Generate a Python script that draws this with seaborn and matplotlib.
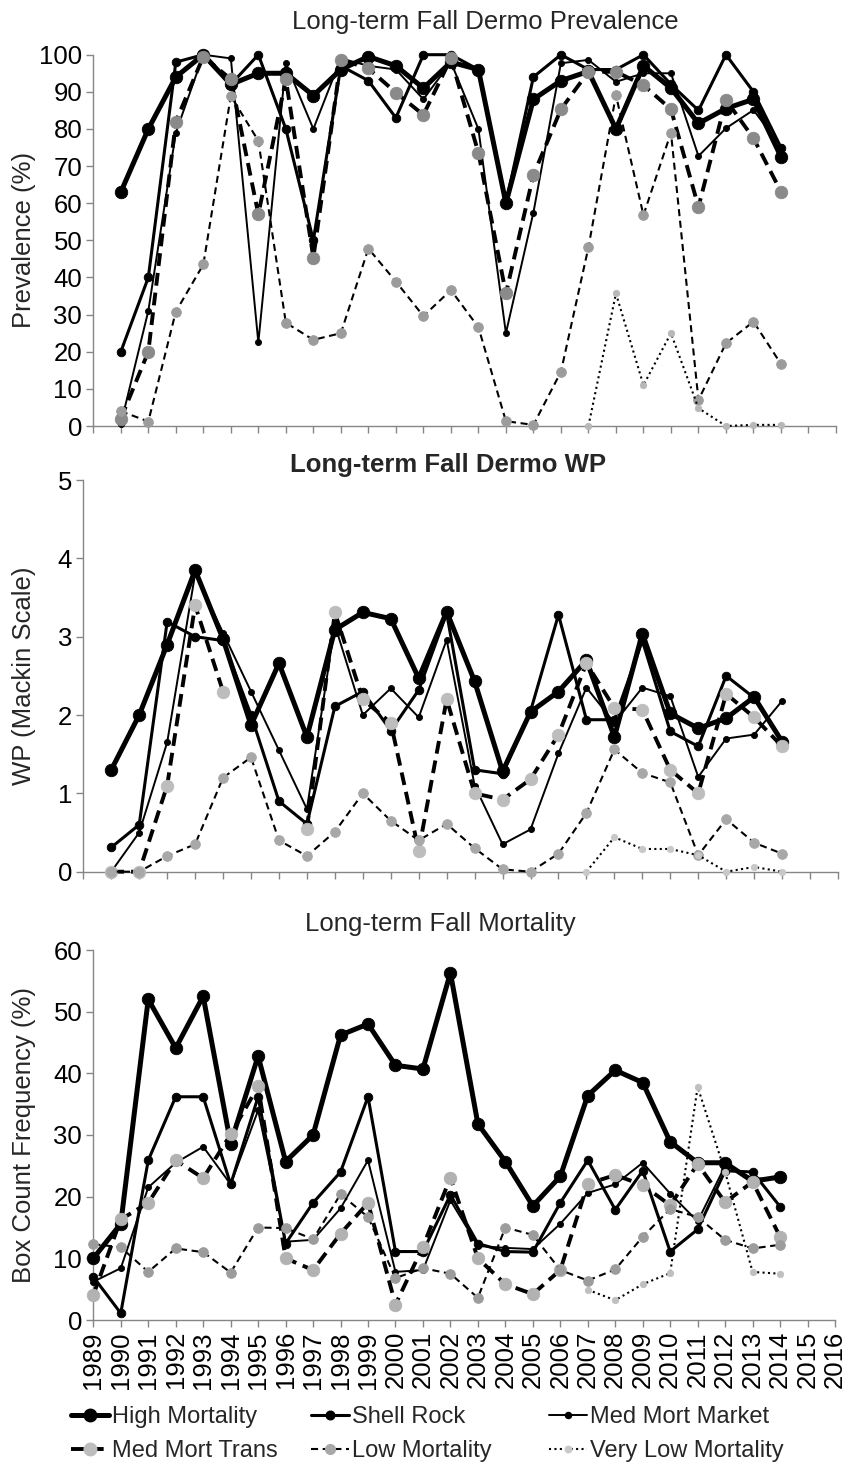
import numpy as np
import pandas as pd
import matplotlib
matplotlib.use("Agg")
import matplotlib.pyplot as plt
import seaborn as sns
from matplotlib.lines import Line2D

NA = np.nan

# ---------------- data ----------------
series_names = ["High Mortality", "Shell Rock", "Med Mort Market",
                "Med Mort Trans", "Low Mortality", "Very Low Mortality"]

years_dermo = list(range(1990, 2015))
years_mort = list(range(1989, 2015))
tick_years = list(range(1989, 2017))

prev_high = [63, 80, 94, 100, 92, 95, 95, 89, 96, 99.5, 97, 91, 98, 96, 60, 88, 93, 95.5, 80, 97, 91, 81.5, 85.5, 88, 72.5]
prev_shell = [20, 40, 98, 100, 92, 100, 80, 50, 97, 93, 83, 100, 100, 96, 60, 94, 100, 96, 96, 100, 92, 85, 100, 90, 75]
prev_mmm = [0.5, 31, 79, 100, 99, 22.5, 97.7, 80, 99, 97, 96, 88, 98, 80, 25, 57.5, 97.7, 98.6, 92.7, 95, 95, 72.7, 80.2, 85.1, 75.2]
prev_mmt = [2, 20, 82, 99.5, 93.4, 57, 93.4, 45.3, 98.7, 96.3, 89.8, 83.8, 99, 73.6, 35.7, 67.6, 85.3, 95.4, 95.4, 91.8, 85.3, 59, 87.8, 77.5, 63.1]
prev_low = [4, 1.2, 30.8, 43.5, 88.9, 76.8, 27.8, 23.2, 25, 47.8, 38.9, 29.6, 36.6, 26.6, 1.3, 0.3, 14.6, 48.1, 89.1, 56.8, 79, 7, 22.3, 28.1, 16.7]
prev_vlow = [NA, NA, NA, NA, NA, NA, NA, NA, NA, NA, NA, NA, NA, NA, NA, NA, NA,
             0, 35.7, 11, 25, 4.8, 0, 0.3, 0.3]

wp_high = [1.3, 2.0, 2.9, 3.85, 2.97, 1.87, 2.66, 1.72, 3.09, 3.31, 3.23, 2.47, 3.32, 2.43, 1.28, 2.04, 2.30, 2.70, 1.72, 3.04, 2.02, 1.83, 1.96, 2.23, 1.66]
wp_shell = [0.31, 0.6, 3.19, 3.0, 2.95, 2.0, 0.9, 0.61, 2.11, 2.3, 1.8, 2.32, 3.3, 1.3, 1.25, 2.05, 3.28, 1.94, 1.94, 2.95, 1.79, 1.6, 2.5, 2.22, 1.66]
wp_mmm = [0.0, 0.5, 1.65, 3.8, 3.05, 2.3, 1.55, 0.8, 3.15, 2.0, 2.34, 1.97, 2.96, 1.1, 0.35, 0.54, 1.51, 2.35, 1.9, 2.35, 2.24, 1.21, 1.7, 1.75, 2.18]
wp_mmt = [0.0, 0.0, 1.1, 3.4, 2.3, NA, NA, 0.55, 3.31, 2.2, 1.9, 0.27, 2.2, 1.0, 0.92, 1.18, 1.75, 2.66, 2.09, 2.07, 1.3, 1.0, 2.27, 1.97, 1.6]
wp_low = [0.0, 0.0, 0.2, 0.35, 1.2, 1.46, 0.4, 0.2, 0.51, 1.0, 0.65, 0.4, 0.61, 0.3, 0.03, 0.0, 0.23, 0.75, 1.56, 1.26, 1.14, 0.21, 0.67, 0.37, 0.23]
wp_vlow = [NA, NA, NA, NA, NA, NA, NA, NA, NA, NA, NA, NA, NA, NA, NA, NA, NA,
           0.0, 0.44, 0.29, 0.29, 0.21, 0.0, 0.06, 0.0]

mort_high = [10.0, 15.6, 52.0, 44.1, 52.5, 28.6, 42.8, 25.7, 30.0, 46.2, 48.0, 41.3, 40.7, 56.3, 31.8, 25.7, 18.5, 23.3, 36.4, 40.5, 38.5, 28.9, 25.5, 25.5, 22.5, 23.2]
mort_shell = [7.0, 1.1, 25.9, 36.2, 36.2, 22.0, 36.2, 12.4, 19.0, 24.0, 36.2, 11.1, 11.1, 20.3, 12.4, 11.1, 11.0, 19.0, 25.9, 17.9, 24.2, 11.1, 14.7, 24.2, 24.0, 18.4]
mort_mmm = [6.2, 8.4, 21.5, 25.5, 28.1, 22.0, 34.0, 12.7, 13.0, 18.1, 25.9, 7.8, 8.1, 19.4, 12.0, 11.7, 11.5, 15.6, 20.6, 22.0, 25.5, 20.5, 16.0, 25.0, 23.0, 22.8]
mort_mmt = [4.05, 16.3, 19.0, 25.9, 23.0, 30.1, 37.9, 10.0, 8.1, 14.0, 19.0, 2.5, 11.9, 23.1, 10.0, 5.8, 4.2, 8.1, 22.1, 23.5, 21.9, 18.6, 25.3, 19.1, 22.4, 13.5]
mort_low = [12.3, 11.8, 7.8, 11.6, 11.0, 7.7, 15.0, 14.9, 13.1, 20.4, 16.7, 6.8, 8.4, 7.5, 3.6, 15.0, 13.8, 8.1, 6.4, 8.2, 13.5, 18.0, 16.7, 13.0, 11.6, 12.2]
mort_vlow = [NA, NA, NA, NA, NA, NA, NA, NA, NA, NA, NA, NA, NA, NA, NA, NA, NA, NA,
             4.9, 3.2, 5.8, 7.6, 37.8, 24.0, 7.8, 7.5]

titles = ["Long-term Fall Dermo Prevalence", "Long-term Fall Dermo WP", "Long-term Fall Mortality"]
ylabels = ["Prevalence (%)", "WP (Mackin Scale)", "Box Count Frequency (%)"]

# ---------------- style ----------------
sns.set_theme(style="white")
plt.rcParams["font.family"] = ["Liberation Sans", "DejaVu Sans"]

W, H = 849, 1469
fig = plt.figure(figsize=(W / 100, H / 100), dpi=100)

styles = {
    "High Mortality": dict(lw=3.6, ls="-", ms=9.0, z=3),
    "Shell Rock": dict(lw=2.2, ls="-", ms=6.2, z=4),
    "Med Mort Market": dict(lw=1.4, ls="-", ms=4.4, z=5),
    "Med Mort Trans": dict(lw=2.8, ls=(0, (3.3, 1.8)), ms=9.0, z=6),
    "Low Mortality": dict(lw=1.5, ls=(0, (3.4, 2.2)), ms=7.0, z=7),
    "Very Low Mortality": dict(lw=1.5, ls=(0, (1.0, 1.6)), ms=4.6, z=8),
}

panel_marker_colors = [
    {"High Mortality": "black", "Shell Rock": "black", "Med Mort Market": "black",
     "Med Mort Trans": "#8a8a8a", "Low Mortality": "#9c9c9c", "Very Low Mortality": "#b8b8b8"},
    {"High Mortality": "black", "Shell Rock": "black", "Med Mort Market": "black",
     "Med Mort Trans": "#bdbdbd", "Low Mortality": "#a8a8a8", "Very Low Mortality": "#c8c8c8"},
    {"High Mortality": "black", "Shell Rock": "black", "Med Mort Market": "black",
     "Med Mort Trans": "#b2b2b2", "Low Mortality": "#9c9c9c", "Very Low Mortality": "#c0c0c0"},
]

panels = [
    dict(years=years_dermo, data=[prev_high, prev_shell, prev_mmm, prev_mmt, prev_low, prev_vlow],
         rect=(93.3, 54.7, 836.0, 426.0), ylim=(0, 100), yticks=list(range(0, 101, 10)),
         title_xy=(485, 29), bold=False),
    dict(years=years_dermo, data=[wp_high, wp_shell, wp_mmm, wp_mmt, wp_low, wp_vlow],
         rect=(83.3, 480.0, 838.0, 871.7), ylim=(0, 5), yticks=list(range(0, 6)),
         title_xy=(448, 472), bold=True),
    dict(years=years_mort, data=[mort_high, mort_shell, mort_mmm, mort_mmt, mort_low, mort_vlow],
         rect=(93.3, 950.0, 835.0, 1320.0), ylim=(0, 60), yticks=list(range(0, 61, 10)),
         title_xy=(440, 931), bold=False),
]


def contiguous_runs(years, vals):
    """Split a series at missing values so gaps stay open."""
    runs, cur = [], []
    for yr, v in zip(years, vals):
        if v is None or (isinstance(v, float) and np.isnan(v)):
            if cur:
                runs.append(cur)
                cur = []
        else:
            cur.append((yr, v))
    if cur:
        runs.append(cur)
    return runs


spine_color = "#868686"
FS = 18.5

for i, p in enumerate(panels):
    x0, y0, x1, y1 = p["rect"]
    ax = fig.add_axes([x0 / W, 1 - y1 / H, (x1 - x0) / W, (y1 - y0) / H])
    for name, vals in zip(series_names, p["data"]):
        st = styles[name]
        mc = panel_marker_colors[i][name]
        for run in contiguous_runs(p["years"], vals):
            df = pd.DataFrame(run, columns=["year", "value"])
            sns.lineplot(data=df, x="year", y="value", ax=ax, estimator=None, sort=False,
                         color="black", linewidth=st["lw"], linestyle=st["ls"],
                         marker="o", markersize=st["ms"], markerfacecolor=mc,
                         markeredgecolor=mc, markeredgewidth=0.6,
                         legend=False, clip_on=False, zorder=st["z"])
    ax.set_xlim(1989, 2016)
    ax.set_ylim(*p["ylim"])
    ax.set_xticks(tick_years)
    ax.set_yticks(p["yticks"])
    if i == 2:
        ax.set_xticklabels([str(y) for y in tick_years], rotation=90, fontsize=FS)
    else:
        ax.set_xticklabels([])
    ax.set_yticklabels([str(v) for v in p["yticks"]], fontsize=FS)
    ax.set_xlabel("")
    ax.set_ylabel(ylabels[i], fontsize=FS)
    ax.yaxis.set_label_coords((36 - x0) / (x1 - x0), 0.5)
    for s in ["top", "right"]:
        ax.spines[s].set_visible(False)
    for s in ["left", "bottom"]:
        ax.spines[s].set_color(spine_color)
        ax.spines[s].set_linewidth(1.0)
    ax.tick_params(axis="both", direction="out", length=5, width=1.0,
                   color=spine_color, labelcolor="black", pad=3,
                   bottom=True, left=True)
    ax.set_facecolor("none")
    ax.grid(False)
    tx, ty = p["title_xy"]
    fig.text(tx / W, 1 - ty / H, titles[i], ha="center", va="baseline",
             fontsize=FS, fontweight="bold" if p["bold"] else "normal")

# ---------------- legend ----------------
def handle_for(name):
    st = styles[name]
    mc = panel_marker_colors[1][name]
    return Line2D([], [], color="black", linewidth=st["lw"], linestyle=st["ls"],
                  marker="o", markersize=st["ms"], markerfacecolor=mc, markeredgecolor=mc)

columns = [(["High Mortality", "Med Mort Trans"], 71),
           (["Shell Rock", "Low Mortality"], 311),
           (["Med Mort Market", "Very Low Mortality"], 549)]
for names, xpx in columns:
    fig.legend([handle_for(n) for n in names], names, loc="upper left",
               bbox_to_anchor=(xpx / W, 1 - 1406 / H), frameon=False, fontsize=17,
               handlelength=1.6, handletextpad=0.15, labelspacing=0.5,
               borderpad=0, borderaxespad=0, numpoints=1)

fig.savefig("out.png", dpi=100)
